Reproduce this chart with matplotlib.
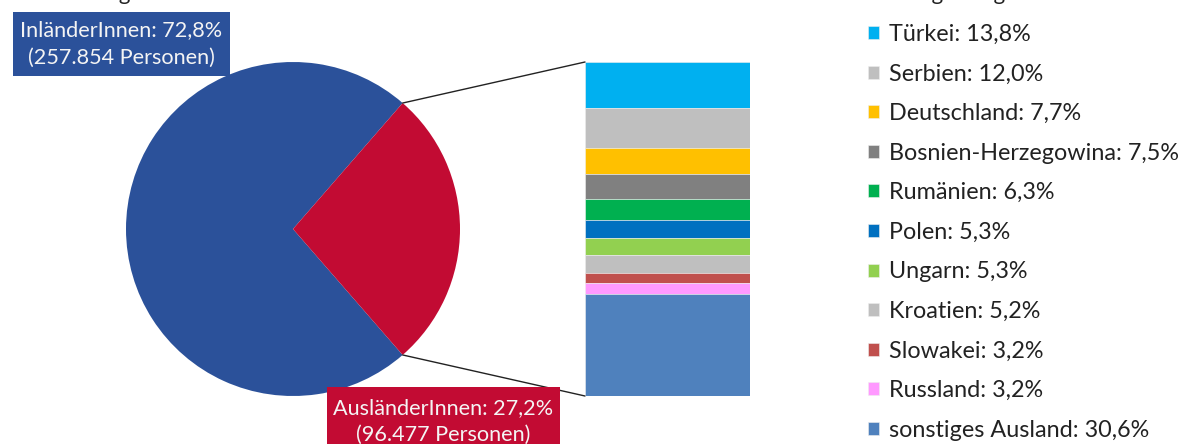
import matplotlib
matplotlib.use("Agg")
import matplotlib.pyplot as plt
import numpy as np
from matplotlib.patches import Rectangle, ConnectionPatch

plt.rcParams['font.family'] = ['Lato', 'DejaVu Sans']

# ---- data ----
pie_labels = ["InländerInnen", "AusländerInnen"]
pie_shares = [72.8, 27.2]
pie_persons = ["257.854", "96.477"]
pie_colors = ["#2B519A", "#C20B33"]

countries = ["Türkei", "Serbien", "Deutschland", "Bosnien-Herzegowina", "Rumänien",
             "Polen", "Ungarn", "Kroatien", "Slowakei", "Russland", "sonstiges Ausland"]
country_shares = [13.8, 12.0, 7.7, 7.5, 6.3, 5.3, 5.3, 5.2, 3.2, 3.2, 30.6]
country_colors = ["#00B0F0", "#BFBFBF", "#FFC000", "#808080", "#00B050", "#0070C0",
                  "#92D050", "#BFBFBF", "#C0504D", "#FF99FF", "#4F81BD"]

W, H = 1181, 444
fig = plt.figure(figsize=(W / 100, H / 100), dpi=100)

def fx(x):
    return x / W

def fy(y):
    return 1 - y / H

# ---- pie ----
ax_pie = fig.add_axes([fx(126), fy(396), 334 / W, 334 / H])
start = pie_shares[1] * 360 / 100 / 2
wedges, _ = ax_pie.pie(pie_shares, colors=pie_colors, startangle=start,
                       counterclock=True, wedgeprops=dict(linewidth=0))
ax_pie.set_xlim(-1, 1)
ax_pie.set_ylim(-1, 1)
ax_pie.set_aspect('equal')
ax_pie.axis('off')

# ---- stacked bar ----
ax_bar = fig.add_axes([fx(585), fy(396), 165 / W, 334 / H])
bottom = 0.0
handles = []
for name, val, col in zip(countries, country_shares, country_colors):
    b = ax_bar.bar(0, val, width=1.0, bottom=bottom, color=col,
                   edgecolor='#EEEEEE', linewidth=0.4)
    handles.append(b[0])
    bottom += val
total = bottom
ax_bar.set_xlim(-0.5, 0.5)
ax_bar.set_ylim(total, 0)
ax_bar.axis('off')

# ---- connectors ----
w = wedges[1]
for ang, ybar in [(w.theta2, 0), (w.theta1, total)]:
    p = (np.cos(np.radians(ang)), np.sin(np.radians(ang)))
    con = ConnectionPatch(xyA=p, coordsA=ax_pie.transData,
                          xyB=(-0.5, ybar), coordsB=ax_bar.transData,
                          color='#222222', linewidth=1.0)
    fig.add_artist(con)

# ---- label boxes ----
fs = 15.6
fig.add_artist(Rectangle((fx(13), fy(76)), 217 / W, 64 / H, transform=fig.transFigure,
                         facecolor=pie_colors[0], edgecolor='none'))
fig.text(fx(121), fy(30), f"{pie_labels[0]}: {str(pie_shares[0]).replace('.', ',')}%",
         ha='center', va='center', color='#F4F4F4', fontsize=fs)
fig.text(fx(121), fy(58), f"({pie_persons[0]} Personen)",
         ha='center', va='center', color='#F4F4F4', fontsize=fs)

fig.add_artist(Rectangle((fx(327), 0), 233 / W, 57 / H, transform=fig.transFigure,
                         facecolor=pie_colors[1], edgecolor='none'))
fig.text(fx(443), fy(408), f"{pie_labels[1]}: {str(pie_shares[1]).replace('.', ',')}%",
         ha='center', va='center', color='#F4F4F4', fontsize=fs)
fig.text(fx(443), fy(435), f"({pie_persons[1]} Personen)",
         ha='center', va='center', color='#F4F4F4', fontsize=fs)

# ---- legend ----
labels = [f"{c}: {str(v).replace('.', ',')}%" for c, v in zip(countries, country_shares)]
leg = fig.legend(handles, labels, loc='upper left', bbox_to_anchor=(fx(868), fy(24)),
                 frameon=False, fontsize=16.8, handlelength=0.48, handleheight=0.48,
                 handletextpad=0.42, labelspacing=0.795, borderaxespad=0, borderpad=0)
for t in leg.get_texts():
    t.set_color('#222222')

# ---- cut-off titles ----
fig.text(fx(130), 1.0, "Bevölkerung", ha='right', va='baseline', fontsize=16, color='#222222')
fig.text(fx(848), 1.0, "Staatsangehörigkeit", ha='left', va='baseline', fontsize=16, color='#222222')

fig.savefig("out.png", dpi=100)
